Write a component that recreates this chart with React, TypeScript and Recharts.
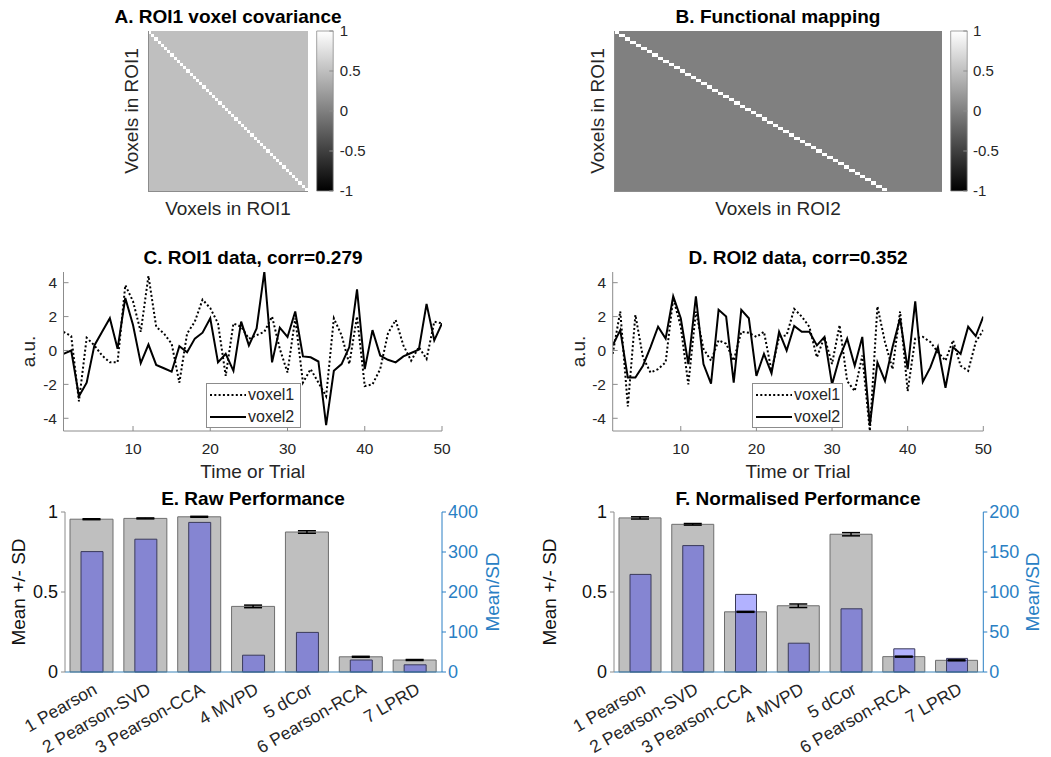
import React from "react";
import { BarChart, Bar, Cell, ErrorBar, LineChart, Line, XAxis, YAxis } from "recharts";

// ─── Data ─────────────────────────────────────────────────────────────────────

// A / B: voxel covariance and functional mapping matrices
const roi1Voxels = 50;
const roi2Voxels = 60;
const covDiagonal = 1;
const covOffDiagonal = 0.5;
const mapDiagonal = 1;
const mapOffDiagonal = 0;
const colourbarTicks = [-1, -0.5, 0, 0.5, 1];

// C / D: simulated voxel time series (trials 1..50)
const roi1Voxel1 = [
  1.1, 0.85, -3.0, 0.75, 0.3, -0.3, -0.7, -0.7, 3.85, 2.9,
  1.1, 4.4, 1.4, 1.0, 0.4, -1.9, 1.0, 1.7, 3.0, 2.5,
  1.6, -1.5, 1.6, 1.4, 0.7, 0.9, 1.1, 2.0, 0.1, -1.3,
  1.9, -1.9, -1.1, -1.9, -2.7, 1.9, 0.9, -0.8, 2.0, -2.1,
  -2.0, -1.1, 1.0, 1.8, 0.3, -0.6, 0.2, -0.5, 1.7, 1.6,
];
const roi1Voxel2 = [
  -0.2, 0.0, -2.7, -1.9, 0.3, 1.1, 1.9, 0.1, 3.1, 1.5,
  -0.75, 0.35, -0.85, -1.05, -1.25, 0.25, -0.1, 0.7, 1.05, 1.9,
  -0.7, -0.2, -1.2, 1.7, 0.3, 1.3, 4.65, -0.7, 1.35, 0.8,
  2.3, -0.35, -0.4, -0.65, -4.4, -1.2, -0.8, 0.2, 3.6, -1.1,
  1.2, -0.3, -0.55, -0.7, -0.35, -0.15, 0.05, 2.75, 0.6, 1.6,
];
const roi2Voxel1 = [
  -0.2, 2.3, -3.3, 2.1, -0.4, -1.3, -1.1, -0.7, 3.1, 1.4,
  -2.0, 2.3, 0.1, -0.6, 0.6, 0.4, -0.6, 1.1, 1.05, 0.8,
  1.1, -1.2, 0.8, 0.9, 2.45, 2.0, 1.4, -0.4, 0.8, -0.8,
  1.5, -1.8, -2.4, -0.3, -4.75, 2.6, 0.5, -1.1, 2.3, -2.4,
  0.7, 0.8, 0.5, -0.1, -0.6, 0.6, -0.9, -1.2, 0.5, 1.2,
];
const roi2Voxel2 = [
  0.3, 1.2, -1.6, -1.6, -0.9, 0.2, 1.4, 0.7, 3.2, 1.9,
  -0.8, 3.2, -0.8, -1.95, 2.4, 2.0, -1.9, 2.4, 1.9, -1.5,
  -0.2, -1.35, 1.1, 0.0, 1.45, 1.1, 1.1, 0.3, 0.8, -2.0,
  -0.4, 0.7, -0.9, 0.8, -4.4, -0.7, -1.8, 0.2, 1.9, -1.1,
  2.9, -1.85, -1.0, 0.2, -2.2, 0.2, -0.2, 1.4, 0.85, 2.0,
];
const trialTicks = [10, 20, 30, 40, 50];
const auTicks = [-4, -2, 0, 2, 4];
const auDomain: [number, number] = [-4.75, 4.63];

// E / F: method performance
const methods = [
  "1 Pearson",
  "2 Pearson-SVD",
  "3 Pearson-CCA",
  "4 MVPD",
  "5 dCor",
  "6 Pearson-RCA",
  "7 LPRD",
];
const rawMean = [0.955, 0.96, 0.97, 0.41, 0.875, 0.095, 0.075];
const rawSd = [0.003, 0.003, 0.003, 0.008, 0.008, 0.003, 0.003];
const rawRatio = [301, 332, 374, 42, 99, 30, 18];
const rawRatioTicks = [0, 100, 200, 300, 400];

const normMean = [0.963, 0.923, 0.376, 0.414, 0.861, 0.096, 0.073];
const normSd = [0.007, 0.005, 0.003, 0.011, 0.01, 0.003, 0.003];
const normRatio = [122, 158, 97, 36, 79, 29, 17];
const normRatioTicks = [0, 50, 100, 150, 200];
const meanTicks = [0, 0.5, 1];

// ─── Styling ──────────────────────────────────────────────────────────────────

const FONT = '"Liberation Sans", Arial, Helvetica, sans-serif';
const INK = "#262626";
const BOX = "#8c8c8c";
const BLUE = "#2a7fc4";
const BASE = "#3b84b8";
const TICK_ANGLE = -30;

type Plot = { x0: number; y0: number; x1: number; y1: number };
type Box = { left: number; top: number; width: number; height: number };

const abs = (b: Box): React.CSSProperties => ({
  position: "absolute",
  left: b.left,
  top: b.top,
  width: b.width,
  height: b.height,
});

// gray colormap, -1 black .. 1 white
const grey = (v: number) => {
  const g = Math.round(((v + 1) / 2) * 255);
  return `rgb(${g},${g},${g})`;
};

function Title({ cx, baseline, text }: { cx: number; baseline: number; text: string }) {
  return (
    <div
      style={{
        position: "absolute",
        left: cx - 200,
        width: 400,
        top: baseline - 16,
        textAlign: "center",
        fontSize: 19,
        lineHeight: "19px",
        fontWeight: "bold",
        color: "#000",
        whiteSpace: "nowrap",
      }}
    >
      {text}
    </div>
  );
}

// rotated method name under each bar group
function MethodTick(props: any) {
  const { x, y, payload } = props;
  return (
    <text
      x={x}
      y={y}
      dy="0.71em"
      textAnchor="end"
      transform={`rotate(${TICK_ANGLE} ${x} ${y})`}
      fontSize={17.5}
      fill={INK}
    >
      {payload.value}
    </text>
  );
}

// ─── Heatmap (stacked unit bars, one stack per column) ───────────────────────

function Heatmap({
  box,
  plot,
  rows,
  cols,
  diag,
  off,
  yW,
  xH,
  xLabel,
}: {
  box: Box;
  plot: Plot;
  rows: number;
  cols: number;
  diag: number;
  off: number;
  yW: number;
  xH: number;
  xLabel: string;
}) {
  const rowKeys = Array.from({ length: rows }, (_, k) => `r${k}`);
  const data = Array.from({ length: cols }, (_, c) => {
    const entry: Record<string, number> = { col: c };
    rowKeys.forEach((key) => (entry[key] = 1));
    return entry;
  });
  const value = (r: number, c: number) => (r === c ? diag : off);
  const cellW = (plot.x1 - plot.x0) / cols - 0.02;

  return (
    <div style={{ ...abs(box), shapeRendering: "crispEdges" }}>
      <BarChart
        width={box.width}
        height={box.height}
        data={data}
        barCategoryGap={0}
        barGap={0}
        margin={{
          left: plot.x0 - box.left - yW,
          right: box.left + box.width - plot.x1,
          top: plot.y0 - box.top,
          bottom: box.top + box.height - plot.y1 - xH,
        }}
      >
        <XAxis
          dataKey="col"
          height={xH}
          tick={false}
          tickLine={false}
          axisLine={{ stroke: BOX }}
          label={{ value: xLabel, position: "center", fontSize: 19, fill: INK }}
        />
        <YAxis
          type="number"
          domain={[0, rows]}
          width={yW}
          tick={false}
          tickLine={false}
          axisLine={{ stroke: BOX }}
          label={{ value: "Voxels in ROI1", angle: -90, position: "center", fontSize: 19, fill: INK }}
        />
        {rowKeys.map((key, k) => (
          <Bar key={key} dataKey={key} stackId="m" barSize={cellW} isAnimationActive={false}>
            {data.map((_, c) => (
              <Cell key={c} fill={grey(value(rows - 1 - k, c))} />
            ))}
          </Bar>
        ))}
      </BarChart>
    </div>
  );
}

function Colourbar({ box, plot, id, margin }: { box: Box; plot: Plot; id: string; margin: number }) {
  return (
    <div style={abs(box)}>
      <BarChart
        width={box.width}
        height={box.height}
        data={[{ k: "cb", v: [-1, 1] }]}
        barCategoryGap={0}
        margin={{
          left: plot.x0 - box.left,
          right: 0,
          top: plot.y0 - box.top,
          bottom: box.top + box.height - plot.y1,
        }}
      >
        <defs>
          <linearGradient id={id} x1="0" y1="1" x2="0" y2="0">
            <stop offset="0" stopColor="#000" />
            <stop offset="1" stopColor="#fff" />
          </linearGradient>
        </defs>
        <XAxis dataKey="k" hide />
        <YAxis
          orientation="right"
          type="number"
          domain={[-1, 1]}
          ticks={colourbarTicks}
          interval={0}
          width={box.left + box.width - plot.x1}
          axisLine={false}
          tickSize={-4}
          tickMargin={margin}
          tickLine={{ stroke: BOX }}
          tick={{ fill: INK, fontSize: 15 }}
        />
        <Bar
          dataKey="v"
          fill={`url(#${id})`}
          stroke={BOX}
          strokeWidth={0.8}
          barSize={plot.x1 - plot.x0 - 0.1}
          isAnimationActive={false}
        />
      </BarChart>
    </div>
  );
}

// ─── Voxel time series ────────────────────────────────────────────────────────

function TracePanel({
  box,
  plot,
  v1,
  v2,
  yW,
  yTickMargin,
}: {
  box: Box;
  plot: Plot;
  v1: number[];
  v2: number[];
  yW: number;
  yTickMargin: number;
}) {
  const data = v1.map((v, i) => ({ t: i + 1, v1: v, v2: v2[i] }));
  const xH = 80;
  return (
    <div style={abs(box)}>
      <LineChart
        width={box.width}
        height={box.height}
        data={data}
        margin={{
          left: plot.x0 - box.left - yW,
          right: box.left + box.width - plot.x1,
          top: plot.y0 - box.top,
          bottom: box.top + box.height - plot.y1 - xH,
        }}
      >
        <XAxis
          dataKey="t"
          type="number"
          domain={[1, 50]}
          ticks={trialTicks}
          interval={0}
          allowDataOverflow
          height={xH}
          stroke={BOX}
          tickSize={-5}
          tickMargin={16.5}
          tick={{ fill: INK, fontSize: 15.5 }}
          label={{ value: "Time or Trial", position: "center", fontSize: 19, fill: INK }}
        />
        <XAxis
          xAxisId="top"
          orientation="top"
          dataKey="t"
          type="number"
          domain={[1, 50]}
          ticks={trialTicks}
          interval={0}
          height={0}
          stroke={BOX}
          tickSize={-5}
          tick={false}
        />
        <YAxis
          type="number"
          domain={auDomain}
          ticks={auTicks}
          interval={0}
          allowDataOverflow
          width={yW}
          stroke={BOX}
          tickSize={-5}
          tickMargin={yTickMargin}
          tick={{ fill: INK, fontSize: 15.5 }}
          label={{ value: "a.u.", angle: -90, position: "center", fontSize: 19, fill: INK }}
        />
        <YAxis
          yAxisId="right"
          orientation="right"
          type="number"
          domain={auDomain}
          ticks={auTicks}
          interval={0}
          width={0}
          stroke={BOX}
          tickSize={-5}
          tick={false}
        />
        <Line
          type="linear"
          dataKey="v1"
          stroke="#000"
          strokeWidth={2}
          strokeDasharray="2 2.3"
          dot={false}
          isAnimationActive={false}
        />
        <Line
          type="linear"
          dataKey="v2"
          stroke="#000"
          strokeWidth={2}
          dot={false}
          isAnimationActive={false}
        />
      </LineChart>
    </div>
  );
}

function TraceLegend({ left, top, width }: { left: number; top: number; width: number }) {
  const row = (dash: string | undefined, label: string) => (
    <div style={{ display: "flex", alignItems: "center", height: 22 }}>
      <svg width={41} height={22} style={{ display: "block" }}>
        <line x1={3} x2={39} y1={11} y2={11} stroke="#000" strokeWidth={2} strokeDasharray={dash} />
      </svg>
      <span style={{ fontSize: 16, color: INK, lineHeight: "22px" }}>{label}</span>
    </div>
  );
  return (
    <div
      style={{
        position: "absolute",
        left,
        top,
        width,
        height: 45,
        boxSizing: "border-box",
        border: `1px solid ${BOX}`,
        background: "#fff",
      }}
    >
      {row("2 2.3", "voxel1")}
      {row(undefined, "voxel2")}
    </div>
  );
}

// ─── Performance bars ─────────────────────────────────────────────────────────

function PerfPanel({
  box,
  plot,
  mean,
  sd,
  ratio,
  ratioTicks,
  yLW,
  yRW,
  greyW,
  blueW,
}: {
  box: Box;
  plot: Plot;
  mean: number[];
  sd: number[];
  ratio: number[];
  ratioTicks: number[];
  yLW: number;
  yRW: number;
  greyW: number;
  blueW: number;
}) {
  const data = methods.map((m, i) => ({ method: m, mean: mean[i], sd: sd[i], ratio: ratio[i] }));
  const xH = box.top + box.height - plot.y1;
  return (
    <div style={abs(box)}>
      <BarChart
        width={box.width}
        height={box.height}
        data={data}
        margin={{
          left: plot.x0 - box.left - yLW,
          right: box.left + box.width - plot.x1 - yRW,
          top: plot.y0 - box.top,
          bottom: 0,
        }}
      >
        <XAxis
          xAxisId="g"
          dataKey="method"
          interval={0}
          height={xH}
          axisLine={{ stroke: BASE }}
          tickLine={false}
          tickSize={0}
          tickMargin={10}
          tick={<MethodTick />}
        />
        <XAxis xAxisId="p" dataKey="method" hide />
        <YAxis
          yAxisId="l"
          type="number"
          domain={[0, 1]}
          ticks={meanTicks}
          interval={0}
          width={yLW}
          axisLine={{ stroke: BOX }}
          tickLine={{ stroke: BOX }}
          tickSize={4}
          tickMargin={3}
          tick={{ fill: "#111", fontSize: 18 }}
          label={{ value: "Mean +/- SD", angle: -90, position: "center", fontSize: 19, fill: "#111" }}
        />
        <YAxis
          yAxisId="r"
          orientation="right"
          type="number"
          domain={[0, ratioTicks[ratioTicks.length - 1]]}
          ticks={ratioTicks}
          interval={0}
          width={yRW}
          stroke={BLUE}
          tickSize={4}
          tickMargin={2}
          tick={{ fill: BLUE, fontSize: 18 }}
          label={{ value: "Mean/SD", angle: -90, position: "center", fontSize: 19, fill: BLUE }}
        />
        <Bar
          xAxisId="g"
          yAxisId="l"
          dataKey="mean"
          fill="#bfbfbf"
          stroke="#6e6e6e"
          strokeWidth={1}
          barSize={greyW}
          isAnimationActive={false}
        >
          <ErrorBar dataKey="sd" width={9} stroke="#000" strokeWidth={1.5} direction="y" />
        </Bar>
        <Bar
          xAxisId="p"
          yAxisId="r"
          dataKey="ratio"
          fill="#0000ff"
          fillOpacity={0.3}
          stroke="#3a3a5a"
          strokeWidth={1}
          barSize={blueW}
          isAnimationActive={false}
        />
      </BarChart>
    </div>
  );
}

// ─── Page ─────────────────────────────────────────────────────────────────────

export default function App() {
  return (
    <div
      style={{
        position: "absolute",
        left: 0,
        top: 0,
        width: 1051,
        height: 757,
        overflow: "hidden",
        background: "#fff",
        fontFamily: FONT,
      }}
    >
      <Heatmap
        box={{ left: 60, top: 0, width: 270, height: 230 }}
        plot={{ x0: 148, y0: 31, x1: 308, y1: 191 }}
        rows={roi1Voxels}
        cols={roi1Voxels}
        diag={covDiagonal}
        off={covOffDiagonal}
        yW={34}
        xH={34}
        xLabel="Voxels in ROI1"
      />
      <Colourbar
        box={{ left: 300, top: 0, width: 90, height: 230 }}
        plot={{ x0: 316.7, y0: 31, x1: 333.3, y1: 191 }}
        id="cbA"
        margin={10.5}
      />
      <Heatmap
        box={{ left: 560, top: 0, width: 400, height: 230 }}
        plot={{ x0: 614, y0: 31, x1: 942, y1: 191 }}
        rows={roi1Voxels}
        cols={roi2Voxels}
        diag={mapDiagonal}
        off={mapOffDiagonal}
        yW={33}
        xH={34}
        xLabel="Voxels in ROI2"
      />
      <Colourbar
        box={{ left: 935, top: 0, width: 116, height: 230 }}
        plot={{ x0: 950.7, y0: 31, x1: 967.3, y1: 191 }}
        id="cbB"
        margin={9.7}
      />

      <TracePanel
        box={{ left: -10, top: 240, width: 530, height: 280 }}
        plot={{ x0: 63.5, y0: 272, x1: 442, y1: 431 }}
        v1={roi1Voxel1}
        v2={roi1Voxel2}
        yW={71}
        yTickMargin={11.5}
      />
      <TracePanel
        box={{ left: 500, top: 240, width: 551, height: 280 }}
        plot={{ x0: 612.7, y0: 272, x1: 983.3, y1: 431 }}
        v1={roi2Voxel1}
        v2={roi2Voxel2}
        yW={68.4}
        yTickMargin={11.7}
      />

      <PerfPanel
        box={{ left: -40, top: 480, width: 600, height: 277 }}
        plot={{ x0: 65, y0: 512, x1: 442, y1: 672 }}
        mean={rawMean}
        sd={rawSd}
        ratio={rawRatio}
        ratioTicks={rawRatioTicks}
        yLW={94}
        yRW={101}
        greyW={43}
        blueW={22}
      />
      <PerfPanel
        box={{ left: 470, top: 480, width: 620, height: 277 }}
        plot={{ x0: 614, y0: 512, x1: 983.3, y1: 672 }}
        mean={normMean}
        sd={normSd}
        ratio={normRatio}
        ratioTicks={normRatioTicks}
        yLW={130}
        yRW={98.4}
        greyW={42}
        blueW={21}
      />

      <TraceLegend left={206} top={383} width={95} />
      <TraceLegend left={752} top={383} width={91} />

      <Title cx={228} baseline={23} text="A. ROI1 voxel covariance" />
      <Title cx={778} baseline={23} text="B. Functional mapping" />
      <Title cx={253} baseline={264} text="C. ROI1 data, corr=0.279" />
      <Title cx={798} baseline={264} text="D. ROI2 data, corr=0.352" />
      <Title cx={253} baseline={505} text="E. Raw Performance" />
      <Title cx={798} baseline={505} text="F. Normalised Performance" />
    </div>
  );
}
